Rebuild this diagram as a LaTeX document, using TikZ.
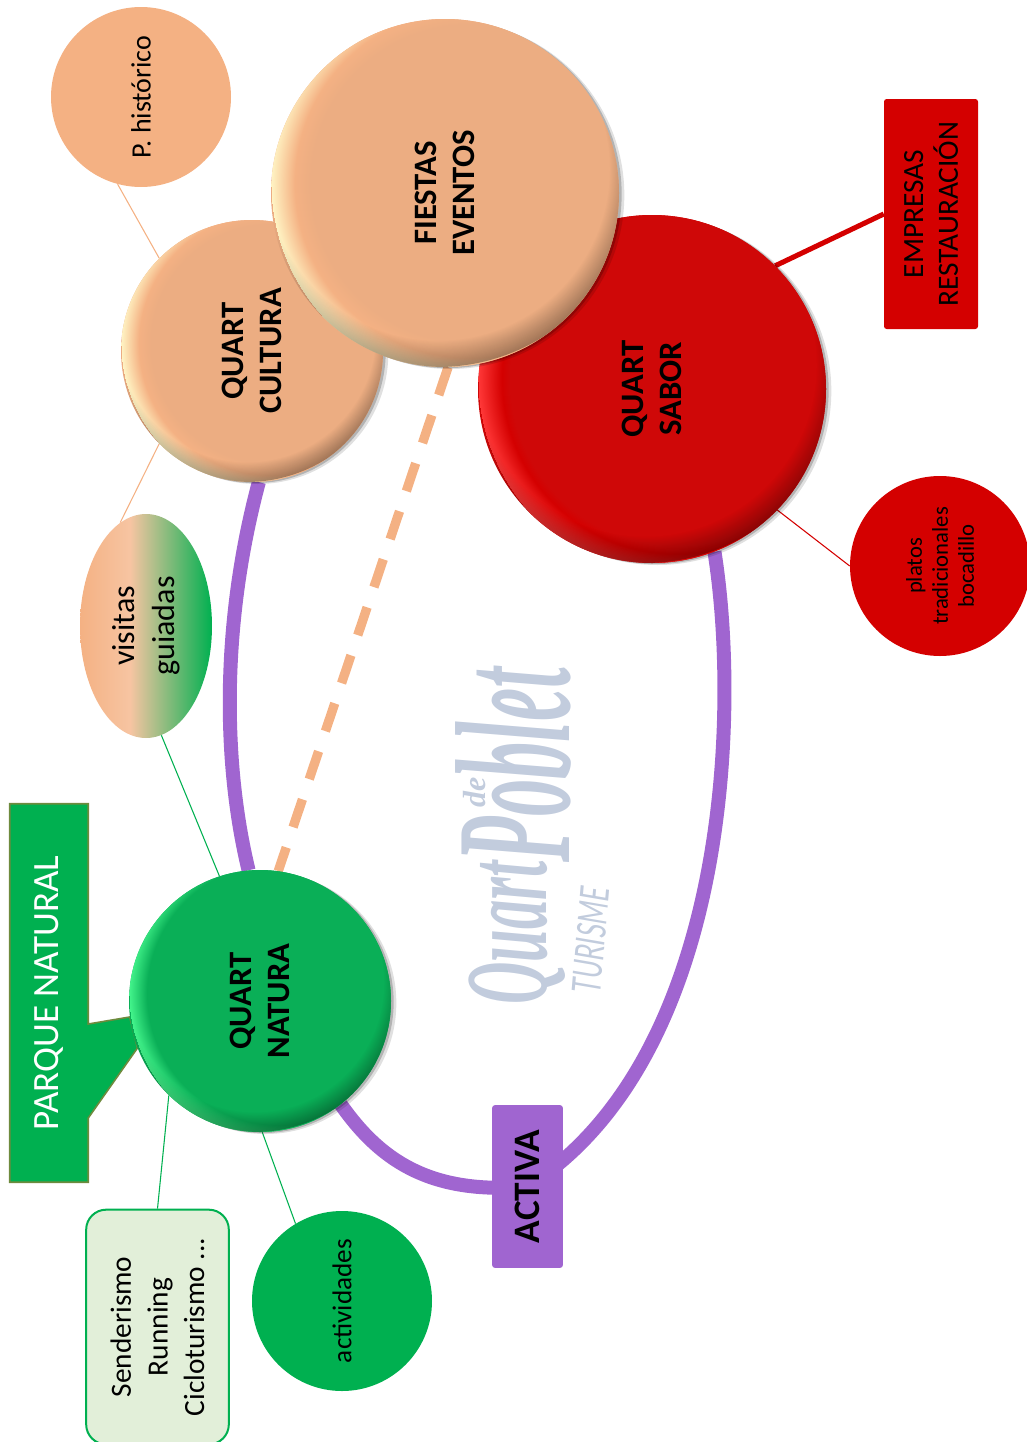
\documentclass[tikz,border=0pt]{standalone}
\usepackage{fontspec}
\setmainfont{Carlito}
\newfontfamily\logofont{Liberation Serif}
\newfontfamily\logosans{Lato}
\usepackage{tikz}
\usetikzlibrary{positioning, calc, shadows, backgrounds, fadings, shapes.geometric}

\definecolor{peach}{HTML}{F4B183}
\definecolor{peachmid}{HTML}{ECAD82}
\definecolor{peachrim}{HTML}{FFF4C4}
\definecolor{redmid}{HTML}{CF0808}
\definecolor{redbase}{HTML}{D40000}
\definecolor{redrim}{HTML}{FF3838}
\definecolor{greenmid}{HTML}{0AAF57}
\definecolor{greenbase}{HTML}{00B050}
\definecolor{greenrim}{HTML}{44F58C}
\definecolor{greenpale}{HTML}{E2EFD9}
\definecolor{olive}{HTML}{6E8B3D}
\definecolor{violet}{HTML}{A065D0}
\definecolor{logoblue}{HTML}{C2CCDD}

\pgfdeclareradialshading{ballpeach}{\pgfpointorigin}{color(0bp)=(peachmid); color(20bp)=(peachmid); color(22bp)=(peach); color(25bp)=(peachrim)}
\pgfdeclareradialshading{ballred}{\pgfpointorigin}{color(0bp)=(redmid); color(21bp)=(redmid); color(22bp)=(redbase); color(25bp)=(redrim)}
\pgfdeclareradialshading{ballgreen}{\pgfpointorigin}{color(0bp)=(greenmid); color(21bp)=(greenmid); color(22bp)=(greenmid); color(25bp)=(greenrim)}
\pgfdeclareverticalshading{peachgreen}{100bp}{color(0bp)=(greenbase); color(25bp)=(greenbase); color(56bp)=(peach!75!white); color(75bp)=(peach); color(100bp)=(peach)}
\pgfdeclareradialshading{rimmask}{\pgfpointorigin}{color(0bp)=(black); color(21.5bp)=(black); color(25bp)=(white)}
\pgfdeclarefading{rimdark}{\pgfuseshading{rimmask}}

\tikzset{
  ballfill/.style 2 args={fill=#1mid, path picture={
      \pgfmathsetlengthmacro\ballshift{0.14*#2/2}
      \pgfmathsetlengthmacro\ballout{1.14*#2/2}
      \shade[shading=ball#1] ($(path picture bounding box.center)+(0.4*\ballshift,-\ballshift)$) circle (\ballout);
      \fill[black, opacity=.35, path fading=rimdark] ($(path picture bounding box.center)+(\ballshift,0.3*\ballshift)$) circle (\ballout);
    }}
}

\begin{document}
\begin{tikzpicture}[x=0.75pt, y=-0.75pt,
    every node/.style={rotate=90, align=center, inner sep=0pt},
    bigball/.style={circle, minimum size=#1, font=\bfseries\fontsize{24.5}{29}\selectfont,
      drop shadow={shadow xshift=4pt, shadow yshift=-1.5pt, opacity=.12, fill=black},
      drop shadow={shadow xshift=2pt, shadow yshift=-.8pt, opacity=.2, fill=black}},
    smallball/.style={circle, minimum size=135pt},
    plainbox/.style={rectangle, rounded corners=2pt},
    thinline/.style={line width=0.8pt},
    ring/.style={violet, line width=10.5pt},
    logotext/.style={text=logoblue, transform shape}
  ]
  \useasboundingbox (0,0) rectangle (1027,1442);

  \node[bigball=261pt, ballfill={red}{261pt}] (sabor) at (652,389) {QUART\\SABOR};
  \node[bigball=196.5pt, ballfill={peach}{196.5pt}] (cultura) at (252,351) {QUART\\CULTURA};
  \node[bigball=261pt, ballfill={peach}{261pt}] (fiestas) at (445,193) {FIESTAS\\EVENTOS};
  \node[bigball=196.5pt, ballfill={green}{196.5pt}] (natura) at (260,1001) {QUART\\NATURA};

  \node[smallball, fill=peach, font=\fontsize{21}{25}\selectfont] (historico) at (141,97) {P. histórico};
  \node[ellipse, minimum width=168pt, minimum height=99pt, shade, shading=peachgreen, shading angle=90,
    font=\fontsize{24}{30}\selectfont] (visitas) at (146,626) {visitas\\guiadas};
  \node[smallball, fill=greenbase, font=\fontsize{20.4}{25}\selectfont] (actividades) at (342,1301) {actividades};
  \node[smallball, fill=redbase, font=\fontsize{17}{19.5}\selectfont] (platos) at (940,566) {platos\\tradicionales\\bocadillo};

  \node[plainbox, minimum width=176pt, minimum height=107pt, fill=greenpale, draw=greenbase,
    line width=1.5pt, rounded corners=15pt, font=\fontsize{22}{27.5}\selectfont] (senderismo) at (157.5,1327)
    {Senderismo\\Running\\Cicloturismo ...};
  \node[plainbox, minimum width=122pt, minimum height=53pt, fill=violet,
    font=\bfseries\fontsize{28}{32}\selectfont] (activa) at (527.5,1186.5) {ACTIVA};
  \node[plainbox, minimum width=172.5pt, minimum height=70.5pt, fill=redbase,
    font=\fontsize{22}{26}\selectfont] (empresas) at (931,214) {EMPRESAS\\RESTAURACIÓN};
  \node[minimum width=283.5pt, minimum height=58.5pt, text=white,
    font=\fontsize{27.8}{32}\selectfont] (parque) at (49,993) {PARQUE NATURAL};

  \node[logotext, font=\logofont\bfseries\itshape\fontsize{44}{44}\selectfont, yscale=2] (quart) at (517,933) {Quart};
  \node[logotext, font=\logofont\bfseries\itshape\fontsize{56}{56}\selectfont, yscale=2.2] (poblet) at (513,765) {Poblet};
  \node[logotext, font=\logofont\bfseries\itshape\fontsize{24}{24}\selectfont] (de) at (475,792) {de};
  \node[logotext, rotate=-5, font=\logosans\itshape\fontsize{20}{20}\selectfont, yscale=1.5] (turisme) at (591,940) {TURISME};

  \begin{scope}[on background layer]
    \draw[ring] (cultura.-177) .. controls (222,620) and (222,760) .. (natura.5);
    \draw[ring] (natura.-142) .. controls (380,1160) and (430,1195) .. (activa.center);
    \draw[ring] (activa.center) .. controls (726,1060) and (741,720) .. (sabor.-159);
    \draw[peach, line width=7pt, dash pattern=on 22pt off 16pt] (fiestas.-179) -- (natura.-8);

    \draw[peach, thinline] (historico.165) -- (cultura.45);
    \draw[peach, thinline] (cultura.135) -- (visitas.14);
    \draw[greenbase, thinline] (visitas.-172) -- (natura.18);
    \draw[greenbase, thinline] (natura.136) -- (senderismo.east);
    \draw[greenbase, thinline] (natura.-179) -- (actividades.31);
    \draw[redbase, thinline] (sabor.-134) -- (platos.north);
    \draw[redbase, line width=3.8pt] (sabor.-45) -- (empresas.north);

    \draw[fill=greenbase, draw=olive, line width=1.2pt]
      (parque.north east) -- (parque.south east) -- ($(parque.south)+(0,31)$) -- (natura.97)
      -- (natura.111) -- ($(parque.south)+(0,125)$) -- (parque.south west) -- (parque.north west) -- cycle;
  \end{scope}
\end{tikzpicture}
\end{document}
